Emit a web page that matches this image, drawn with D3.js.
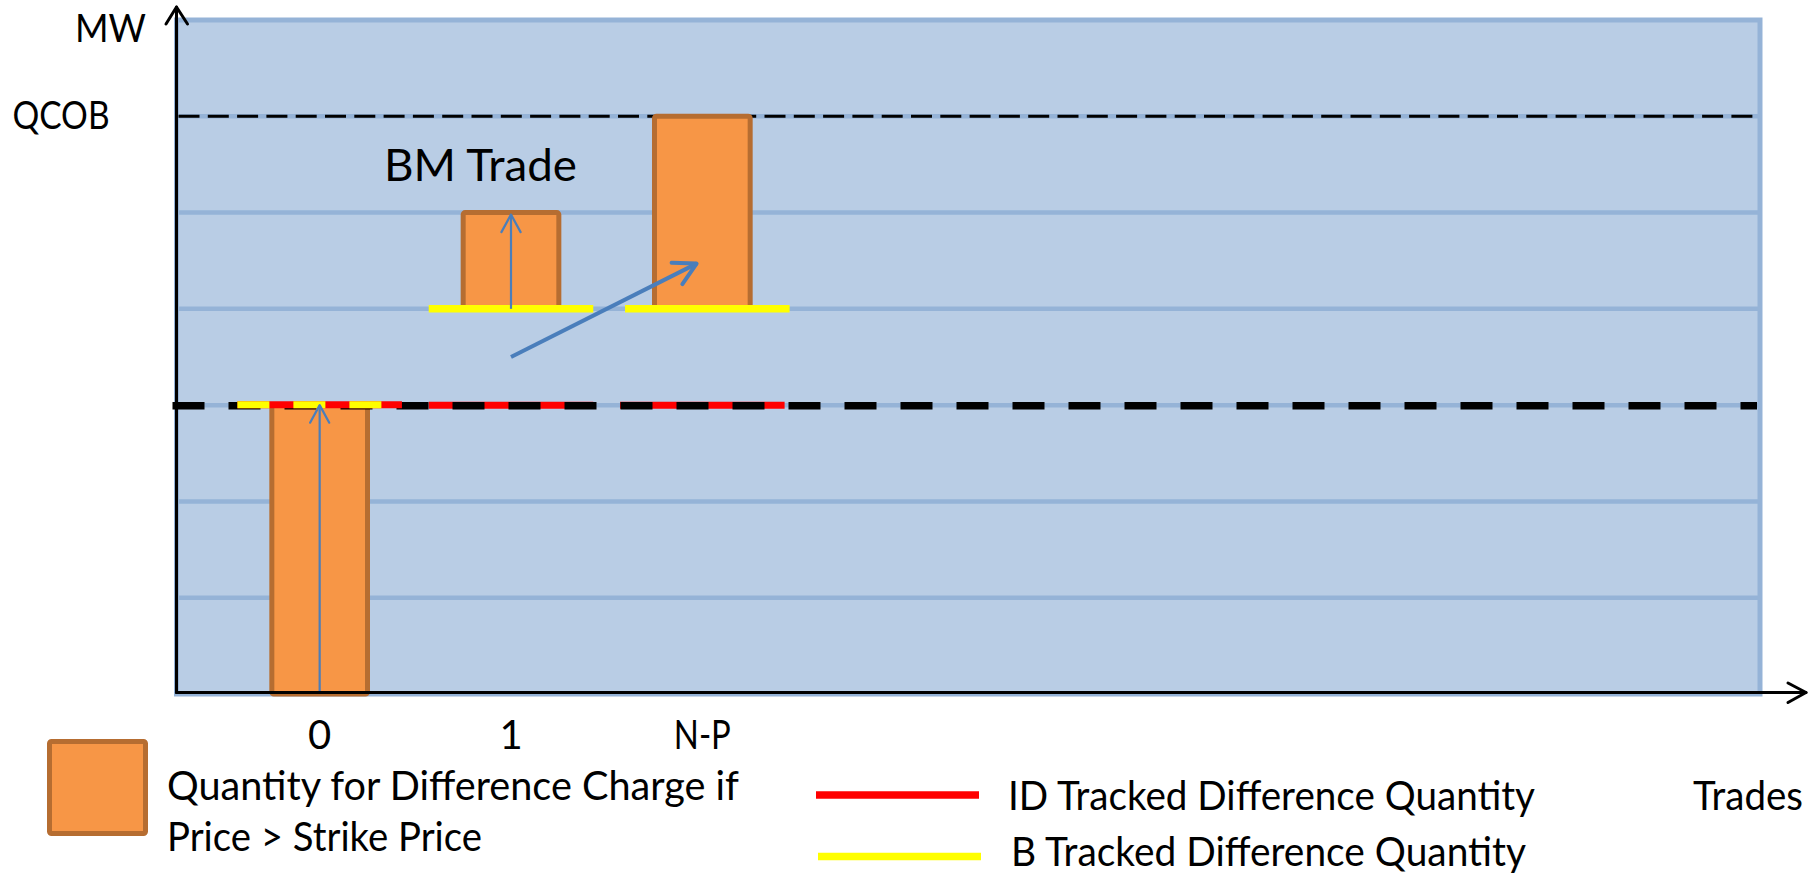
<!DOCTYPE html>
<html>
<head>
<meta charset="utf-8">
<script src="https://cdn.jsdelivr.net/npm/d3@7/dist/d3.min.js"></script>
<style>
  html, body { margin: 0; padding: 0; background: #ffffff; }
  svg { display: block; }
  text { font-family: Lato, "Open Sans", sans-serif; fill: #000; }
</style>
</head>
<body>
<svg id="chart" width="1810" height="876"></svg>
<script>
// ---------- data ----------
const categories   = ["0", "1", "N-P"];
const barBase      = [0, 1, 1];      // bottom of each bar (MW units)
const barTop       = [-3, 2, 3];     // top / end of each bar (MW units)
const hasArrow     = [true, true, false]; // vertical quantity arrow drawn inside bar
const idTracked    = [0, 0, 0];      // ID tracked difference quantity level per trade
const bTracked     = [0, 1, 1];      // B tracked difference quantity level per trade
const gridValues   = [-2, -1, 0, 1, 2, 3];
const yDomain      = [-3, 4];
const qcobValue    = 3;
const yLabels      = ["QCOB"];
const axisTitles   = ["MW", "Trades"];
const annotation   = ["BM Trade"];
const legendLabels = ["Quantity for Difference Charge if", "Price > Strike Price",
                      "ID Tracked Difference Quantity", "B Tracked Difference Quantity"];
// diagonal arrow (from trade "1" to trade "N-P") in data units
const moveFrom = {cat: "1",   value: 0.5,  shift: 0};
const moveTo   = {cat: "N-P", value: 1.47, shift: -0.03};

// ---------- layout ----------
const svg = d3.select("#chart");
const plot = {left: 176.5, right: 1760, top: 20, bottom: 694};

const x = d3.scaleBand().domain(categories).range([224, 798])
  .paddingInner(0.5).paddingOuter(0.25);
const y = d3.scaleLinear().domain(yDomain).range([plot.bottom, plot.top]);
const cx = c => x(c) + x.bandwidth() / 2;

const C = {
  panel: "#b9cde5", grid: "#95b3d7", barFill: "#f79646", barStroke: "#b66d31",
  blue: "#4a7ebb", red: "#ff0000", yellow: "#ffff00", black: "#000000"
};

// panel
svg.append("rect")
  .attr("x", plot.left).attr("y", y(yDomain[1]))
  .attr("width", plot.right - plot.left).attr("height", y(yDomain[0]) - y(yDomain[1]))
  .attr("fill", C.panel).attr("stroke", C.grid).attr("stroke-width", 5);

// gridlines
svg.append("g").selectAll("line").data(gridValues).join("line")
  .attr("x1", plot.left).attr("x2", plot.right)
  .attr("y1", d => y(d)).attr("y2", d => y(d))
  .attr("stroke", C.grid).attr("stroke-width", 4.5);

// QCOB dashed line
svg.append("line")
  .attr("x1", plot.left + 2).attr("x2", plot.right - 3)
  .attr("y1", y(qcobValue)).attr("y2", y(qcobValue))
  .attr("stroke", C.black).attr("stroke-width", 3)
  .attr("stroke-dasharray", "21 8.3");

// bars
const bars = categories.map((c, i) => ({c, base: barBase[i], top: barTop[i], arrow: hasArrow[i]}));
svg.append("g").selectAll("rect").data(bars).join("rect")
  .attr("x", d => x(d.c)).attr("width", x.bandwidth())
  .attr("y", d => y(Math.max(d.base, d.top)))
  .attr("height", d => Math.abs(y(d.base) - y(d.top)))
  .attr("rx", 2)
  .attr("fill", C.barFill).attr("stroke", C.barStroke).attr("stroke-width", 5);

const half = 0.43 * x.step();

// red tracked segments (under the black dashed zero line), for trades other than first
const segs = categories.map((c, i) => ({c, id: idTracked[i], b: bTracked[i], i}));
svg.append("g").selectAll("line").data(segs.filter(d => d.i > 0)).join("line")
  .attr("x1", d => cx(d.c) - half).attr("x2", d => cx(d.c) + half)
  .attr("y1", d => y(d.id)).attr("y2", d => y(d.id))
  .attr("stroke", C.red).attr("stroke-width", 7);

// black thick dashed zero line
svg.append("line")
  .attr("x1", plot.left - 4).attr("x2", plot.right - 3)
  .attr("y1", y(0) + 0.5).attr("y2", y(0) + 0.5)
  .attr("stroke", C.black).attr("stroke-width", 7.5)
  .attr("stroke-dasharray", "32 24");

// first trade: red with yellow dashes on top
const first = segs.filter(d => d.i === 0);
svg.append("g").selectAll("line").data(first).join("line")
  .attr("x1", d => cx(d.c) - half).attr("x2", d => cx(d.c) + half)
  .attr("y1", d => y(d.id) - 0.5).attr("y2", d => y(d.id) - 0.5)
  .attr("stroke", C.red).attr("stroke-width", 7);
svg.append("g").selectAll("line").data(first).join("line")
  .attr("x1", d => cx(d.c) - half).attr("x2", d => cx(d.c) + half)
  .attr("y1", d => y(d.b) - 0.5).attr("y2", d => y(d.b) - 0.5)
  .attr("stroke", C.yellow).attr("stroke-width", 7)
  .attr("stroke-dasharray", "32 24");

// yellow B tracked lines at bar bases (trades other than first)
svg.append("g").selectAll("line").data(segs.filter(d => d.i > 0)).join("line")
  .attr("x1", d => cx(d.c) - half + (d.i === 2 ? 5 : 0)).attr("x2", d => cx(d.c) + half + (d.i === 2 ? 5 : 0))
  .attr("y1", d => y(d.b)).attr("y2", d => y(d.b))
  .attr("stroke", C.yellow).attr("stroke-width", 7.5);

// arrows
function arrow(g, x1, y1, x2, y2, w, len, halfAngle) {
  g.append("line").attr("x1", x1).attr("y1", y1).attr("x2", x2).attr("y2", y2)
    .attr("stroke", C.blue).attr("stroke-width", w);
  const a = Math.atan2(y2 - y1, x2 - x1);
  const p1 = [x2 - len * Math.cos(a - halfAngle), y2 - len * Math.sin(a - halfAngle)];
  const p2 = [x2 - len * Math.cos(a + halfAngle), y2 - len * Math.sin(a + halfAngle)];
  g.append("path").attr("d", `M${p1}L${x2},${y2}L${p2}`)
    .attr("fill", "none").attr("stroke", C.blue).attr("stroke-width", w)
    .attr("stroke-linecap", "round").attr("stroke-linejoin", "round");
}
const ag = svg.append("g");
bars.filter(d => d.arrow).forEach(d => {
  const ys = d.top < d.base ? y(yDomain[0]) - 2 : y(d.base);
  const ye = d.top < d.base ? y(d.base) : y(d.top) + 2;
  arrow(ag, cx(d.c), ys, cx(d.c), ye, 2.2, 20, 0.5);
});
arrow(ag, cx(moveFrom.cat) + moveFrom.shift * x.step(), y(moveFrom.value),
      cx(moveTo.cat) + moveTo.shift * x.step(), y(moveTo.value), 4, 25, 0.5);

// axes lines with open arrowheads
const axg = svg.append("g").attr("stroke", C.black).attr("fill", "none")
  .attr("stroke-width", 3).attr("stroke-linecap", "round").attr("stroke-linejoin", "round");
axg.append("line").attr("x1", plot.left).attr("y1", plot.bottom - 1.5).attr("x2", plot.left).attr("y2", 7);
axg.append("path").attr("d", `M${plot.left - 10.5},24L${plot.left},7L${plot.left + 11},24`);
axg.append("line").attr("x1", plot.left).attr("y1", plot.bottom - 1.5).attr("x2", 1806).attr("y2", plot.bottom - 1.5);
axg.append("path").attr("d", `M1788,${plot.bottom - 11}L1806,${plot.bottom - 1.5}L1788,${plot.bottom + 8.5}`);

// x tick labels via d3 axis
const xAxis = svg.append("g").attr("transform", `translate(0,${plot.bottom})`)
  .call(d3.axisBottom(x).tickSize(0).tickPadding(0));
xAxis.select(".domain").remove();
xAxis.selectAll("text").attr("y", 55).attr("dy", null)
  .style("font-family", "Lato, sans-serif").style("font-size", "40px").attr("fill", "#000");
xAxis.selectAll("text").filter(d => d.length > 1)
  .attr("textLength", 57).attr("lengthAdjust", "spacingAndGlyphs");

// y label QCOB via d3 axis
const yAxis = svg.append("g").attr("transform", `translate(${plot.left},0)`)
  .call(d3.axisLeft(y).tickValues([qcobValue]).tickFormat(() => yLabels[0]).tickSize(0).tickPadding(67));
yAxis.select(".domain").remove();
yAxis.selectAll("text").attr("dy", "0.33em")
  .style("font-family", "Lato, sans-serif").style("font-size", "38px").attr("fill", "#000")
  .attr("textLength", 97).attr("lengthAdjust", "spacingAndGlyphs");

// titles
svg.append("text").attr("x", 75).attr("y", 42).style("font-size", "38px")
  .attr("textLength", 71).attr("lengthAdjust", "spacingAndGlyphs").text(axisTitles[0]);
svg.append("text").attr("x", 1693).attr("y", 810).style("font-size", "40px")
  .attr("textLength", 110).attr("lengthAdjust", "spacingAndGlyphs").text(axisTitles[1]);
svg.append("text").attr("x", 384).attr("y", 181).style("font-size", "45px")
  .attr("textLength", 193).attr("lengthAdjust", "spacingAndGlyphs").text(annotation[0]);

// legend
svg.append("rect").attr("x", 49.5).attr("y", 741.5).attr("width", 96).attr("height", 92).attr("rx", 2)
  .attr("fill", C.barFill).attr("stroke", C.barStroke).attr("stroke-width", 5);
svg.append("line").attr("x1", 816).attr("x2", 979).attr("y1", 795).attr("y2", 795)
  .attr("stroke", C.red).attr("stroke-width", 7.5);
svg.append("line").attr("x1", 818).attr("x2", 981).attr("y1", 856.5).attr("y2", 856.5)
  .attr("stroke", C.yellow).attr("stroke-width", 7.5);
const legPos = [[167, 800, 572], [167, 851, 315], [1008, 810, 527], [1011, 866, 515]];
legendLabels.forEach((t, i) => {
  svg.append("text").attr("x", legPos[i][0]).attr("y", legPos[i][1]).style("font-size", "40px")
    .attr("textLength", legPos[i][2]).attr("lengthAdjust", "spacingAndGlyphs").text(t);
});
</script>
</body>
</html>
